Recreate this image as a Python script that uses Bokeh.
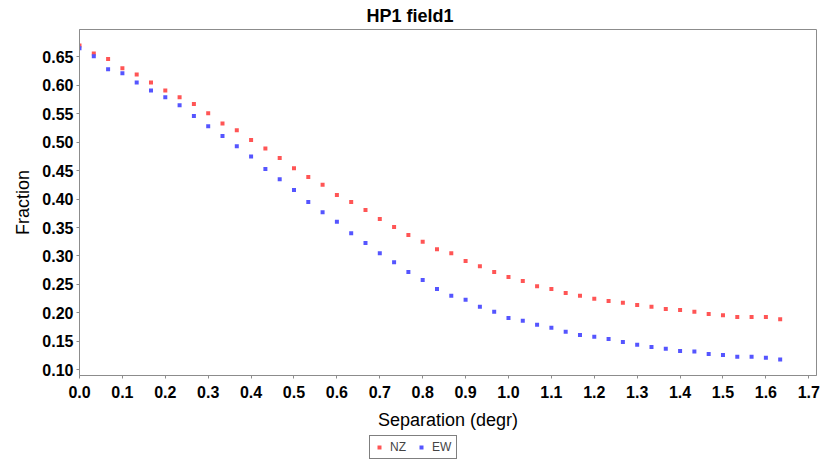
from bokeh.plotting import figure
from bokeh.layouts import column
from bokeh.models import (Range1d, FixedTicker, PrintfTickFormatter, Legend, LegendItem,
                          ColumnDataSource, Title)
from bokeh.embed import file_html
from bokeh.resources import INLINE

# Separation (degr): 50 samples, step 1/30
separation = [k / 30 for k in range(50)]

nz = [0.670, 0.656, 0.646, 0.630, 0.619, 0.605, 0.591, 0.579, 0.567, 0.551,
      0.533, 0.521, 0.504, 0.489, 0.472, 0.454, 0.439, 0.425, 0.407, 0.395,
      0.381, 0.365, 0.351, 0.337, 0.325, 0.312, 0.305, 0.291, 0.282, 0.272,
      0.263, 0.256, 0.247, 0.242, 0.235, 0.230, 0.225, 0.221, 0.218, 0.214,
      0.211, 0.207, 0.205, 0.202, 0.198, 0.196, 0.193, 0.193, 0.193, 0.189]

ew = [0.665, 0.651, 0.628, 0.621, 0.605, 0.591, 0.579, 0.565, 0.546, 0.528,
      0.511, 0.493, 0.475, 0.453, 0.435, 0.416, 0.395, 0.377, 0.360, 0.340,
      0.323, 0.305, 0.289, 0.272, 0.258, 0.242, 0.230, 0.223, 0.211, 0.202,
      0.191, 0.186, 0.179, 0.174, 0.167, 0.161, 0.158, 0.154, 0.149, 0.144,
      0.140, 0.137, 0.133, 0.132, 0.128, 0.126, 0.123, 0.123, 0.121, 0.118]

series_names = ["NZ", "EW"]
series_colors = ["#ff5555", "#5555ff"]

x_ticks = [i / 10 for i in range(18)]
y_ticks = [0.10 + 0.05 * i for i in range(12)]

FONT = "Liberation Sans"
AXIS_COLOR = "#8c8c8c"

p = figure(width=824, height=432, output_backend="svg", toolbar_location=None,
           x_range=Range1d(0, 1.718), y_range=Range1d(0.09, 0.698),
           min_border_left=79, min_border_right=8, min_border_top=20, min_border_bottom=57,
           title=None)

p.add_layout(Title(text="HP1 field1", align="left", offset=287, standoff=7,
                   text_font=FONT, text_font_size="18px", text_font_style="bold",
                   text_color="black"), "above")

src = ColumnDataSource(dict(x=separation, nz=nz, ew=ew))
p.scatter("x", "nz", source=src, marker="square", size=4,
          fill_color=series_colors[0], line_color=None)
p.scatter("x", "ew", source=src, marker="square", size=4,
          fill_color=series_colors[1], line_color=None)

p.xgrid.visible = False
p.ygrid.visible = False
p.outline_line_color = AXIS_COLOR
p.background_fill_color = "white"
p.border_fill_color = "white"

for ax in (p.xaxis[0], p.yaxis[0]):
    ax.axis_line_color = AXIS_COLOR
    ax.major_tick_line_color = AXIS_COLOR
    ax.minor_tick_line_color = None
    ax.major_tick_in = 0
    ax.major_tick_out = 3
    ax.major_label_text_font = FONT
    ax.major_label_text_font_size = "16px"
    ax.major_label_text_font_style = "bold"
    ax.major_label_text_color = "black"
    ax.axis_label_text_font = FONT
    ax.axis_label_text_font_size = "18px"
    ax.axis_label_text_font_style = "normal"
    ax.axis_label_text_color = "black"

p.xaxis[0].ticker = FixedTicker(ticks=x_ticks)
p.xaxis[0].formatter = PrintfTickFormatter(format="%.1f")
p.xaxis[0].axis_label = "Separation (degr)"
p.xaxis[0].major_label_standoff = 7
p.xaxis[0].axis_label_standoff = 9

p.yaxis[0].ticker = FixedTicker(ticks=y_ticks)
p.yaxis[0].formatter = PrintfTickFormatter(format="%.2f")
p.yaxis[0].axis_label = "Fraction"
p.yaxis[0].major_label_standoff = 3
p.yaxis[0].axis_label_standoff = 6

# legend strip below the chart
lf = figure(width=824, height=28, output_backend="svg", toolbar_location=None,
            x_axis_location=None, y_axis_location=None,
            x_range=Range1d(0, 1), y_range=Range1d(0, 1),
            min_border=0, title=None)
lf.xgrid.visible = False
lf.ygrid.visible = False
lf.outline_line_color = None
lf.border_fill_color = "white"
lf.background_fill_color = "white"
# legend-only renderers: their single point lies outside the strip's ranges
hidden = ColumnDataSource(dict(x=[-10], y=[-10]))
items = []
for name, col in zip(series_names, series_colors):
    r = lf.scatter("x", "y", source=hidden, marker="square", size=4,
                   fill_color=col, line_color=None)
    items.append(LegendItem(label=name, renderers=[r]))

legend = Legend(items=items, orientation="horizontal", location=(290, 1),
                label_text_font=FONT, label_text_font_size="12px",
                label_height=13, glyph_height=12, glyph_width=10,
                label_standoff=6, spacing=6, padding=4, margin=0,
                border_line_color="black", border_line_width=1,
                background_fill_color="white", background_fill_alpha=1)
lf.add_layout(legend, "center")

layout = column(p, lf, spacing=0)
open("out.html", "w").write(file_html(layout, INLINE))
